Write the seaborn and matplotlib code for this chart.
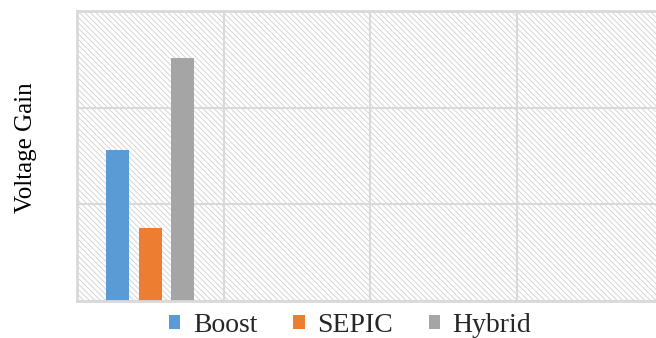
import matplotlib
matplotlib.use("Agg")
import matplotlib.pyplot as plt
from matplotlib.patches import Patch, Rectangle
import numpy as np
import pandas as pd
import seaborn as sns

# Converter voltage gain; only the first group carries values
groups = [1, 2, 3, 4]
series = ["Boost", "SEPIC", "Hybrid"]
boost = [1.56, np.nan, np.nan, np.nan]
sepic = [0.76, np.nan, np.nan, np.nan]
hybrid = [2.52, np.nan, np.nan, np.nan]
colors = ["#5B9BD5", "#ED7D31", "#A5A5A5"]
y_label = "Voltage Gain"

df = pd.DataFrame({
    "group": groups * 3,
    "series": [s for s in series for _ in groups],
    "gain": boost + sepic + hybrid,
})

sns.set_theme(style="white")
plt.rcParams["font.family"] = ["Liberation Serif", "DejaVu Serif"]
plt.rcParams["hatch.linewidth"] = 0.6

grid_c = "#d9d9d9"

fig = plt.figure(figsize=(6.56, 3.38), dpi=100)
ax = fig.add_axes([0.1174, 0.1095, 0.8945, 0.8565])

sns.barplot(data=df.dropna(), x="group", y="gain", hue="series",
            order=groups, hue_order=series, palette=colors, saturation=1,
            width=0.663, gap=0.29, linewidth=0, errorbar=None,
            legend=False, ax=ax)

# diagonal-hatched plot background
ax.set_facecolor("white")
ax.add_patch(Rectangle((0, 0), 1, 1, transform=ax.transAxes,
                       facecolor="white", edgecolor="#cfcfcf",
                       lw=0, hatch="\\" * 6, zorder=0.2))

ax.set_xlim(-0.5, 3.5)
ax.set_ylim(0, 3)
ax.set_yticks([0, 1, 2, 3])
ax.set_xticks([])
ax.set_xticks([0.5, 1.5, 2.5], minor=True)
ax.tick_params(which="both", length=0, labelleft=False, labelbottom=False)
ax.set_axisbelow(True)
ax.grid(axis="y", which="major", color=grid_c, lw=1.5)
ax.grid(axis="x", which="minor", color=grid_c, lw=1.5)
for sp in ax.spines.values():
    sp.set_visible(True)
    sp.set_color(grid_c)
    sp.set_linewidth(2)

ax.set_xlabel("")
ax.set_ylabel(y_label, fontsize=18, color="black")
ax.yaxis.set_label_coords(-0.068, 0.53)

handles = [Patch(facecolor=c, edgecolor="none", label=s)
           for s, c in zip(series, colors)]
fig.legend(handles=handles, loc="center", bbox_to_anchor=(0.534, 0.038),
           ncol=3, frameon=False, fontsize=20, handlelength=0.4,
           handleheight=0.4, handletextpad=0.45, columnspacing=1.3,
           borderpad=0, borderaxespad=0)

fig.savefig("out.png", dpi=100)
